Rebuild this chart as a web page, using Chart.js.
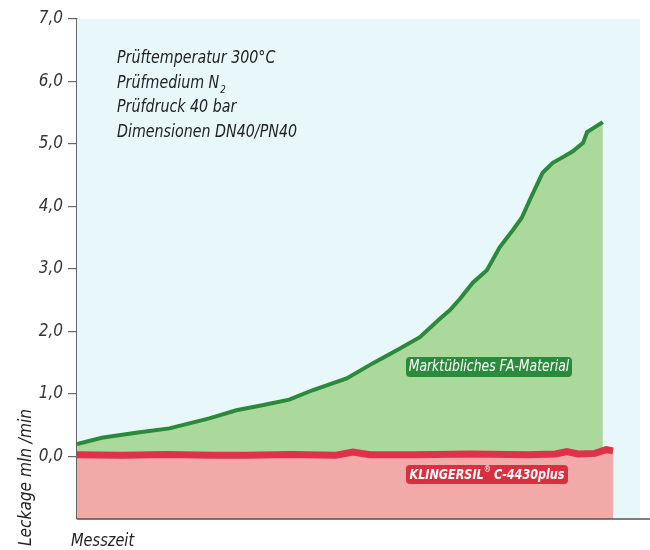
<!DOCTYPE html>
<html>
<head>
<meta charset="utf-8">
<script src="https://cdn.jsdelivr.net/npm/chart.js@4.4.1/dist/chart.umd.min.js"></script>
<style>
  html, body { margin: 0; padding: 0; background: #fff; }
  #wrap { width: 650px; height: 550px; }
</style>
</head>
<body>
<div id="wrap"><canvas id="myChart"></canvas></div>
<script>
// Messzeit (relative units, 0..100) and Leckage in mln/min
const faTime = [0, 4.4, 10.5, 16.4, 23.5, 28.3, 32.9, 37.7, 41.8, 47.9, 52.5, 56.8, 60.9, 64.4, 66.2, 68.0, 70.3, 72.8, 75.1, 77.4, 79.0, 80.4, 82.7, 84.5, 86.3, 88.0, 89.9, 90.6, 93.4];
const faLeak = [0.20, 0.30, 0.38, 0.45, 0.61, 0.74, 0.82, 0.91, 1.06, 1.25, 1.49, 1.70, 1.91, 2.20, 2.34, 2.52, 2.78, 2.98, 3.35, 3.62, 3.82, 4.10, 4.54, 4.70, 4.79, 4.88, 5.02, 5.19, 5.35];

const kTime = [0, 8, 16, 24, 30, 38, 46, 49, 52, 60, 70, 80, 85, 87, 89, 92, 94, 95.2];
const kLeak = [0.03, 0.02, 0.03, 0.02, 0.02, 0.03, 0.02, 0.07, 0.03, 0.03, 0.04, 0.03, 0.04, 0.08, 0.04, 0.05, 0.11, 0.09];

const yTicks = [0, 1, 2, 3, 4, 5, 6, 7];
const infoLines = ["Prüftemperatur 300°C", "Prüfmedium N", "Prüfdruck 40 bar", "Dimensionen DN40/PN40"];

const FONT = "'Liberation Sans Narrow', 'DejaVu Sans Condensed', 'Liberation Sans', sans-serif";

function toPoints(xs, ys) {
    return xs.map((x, i) => ({ x: x, y: ys[i] }));
}

// draws text squeezed horizontally, returns the drawn width
function narrowText(ctx, text, x, y, sx) {
    ctx.save();
    ctx.translate(x, y);
    ctx.scale(sx, 1);
    ctx.fillText(text, 0, 0);
    ctx.restore();
    return ctx.measureText(text).width * sx;
}

function roundBox(ctx, x, y, w, h, r, color) {
    ctx.beginPath();
    ctx.moveTo(x + r, y);
    ctx.arcTo(x + w, y, x + w, y + h, r);
    ctx.arcTo(x + w, y + h, x, y + h, r);
    ctx.arcTo(x, y + h, x, y, r);
    ctx.arcTo(x, y, x + w, y, r);
    ctx.closePath();
    ctx.fillStyle = color;
    ctx.fill();
}

const decor = {
    id: "decor",
    beforeDatasetsDraw(chart) {
        const { ctx, chartArea } = chart;
        ctx.save();
        ctx.fillStyle = "#e7f7fa";
        ctx.fillRect(chartArea.left, chartArea.top, chartArea.right - chartArea.left, chartArea.bottom - chartArea.top);
        ctx.restore();
    },
    afterDraw(chart) {
        const { ctx, chartArea } = chart;
        ctx.save();
        // bottom axis line runs to the edge
        ctx.strokeStyle = "#555";
        ctx.lineWidth = 1.5;
        ctx.beginPath();
        ctx.moveTo(chartArea.left, chartArea.bottom);
        ctx.lineTo(chart.width, chartArea.bottom);
        ctx.stroke();

        // info block
        ctx.fillStyle = "#222";
        ctx.font = "italic 18px " + FONT;
        ctx.textAlign = "left";
        ctx.textBaseline = "alphabetic";
        const x0 = 117, y0 = 63, lh = 24.5;
        infoLines.forEach((t, i) => {
            const w = narrowText(ctx, t, x0, y0 + i * lh, 0.88);
            if (i === 1) {
                ctx.font = "italic 11px " + FONT;
                narrowText(ctx, "2", x0 + w + 1, y0 + i * lh + 5, 0.88);
                ctx.font = "italic 18px " + FONT;
            }
        });

        // series labels
        roundBox(ctx, 406, 357, 166, 20, 4, "#2c8a3c");
        ctx.fillStyle = "#fff";
        ctx.font = "italic 15px " + FONT;
        ctx.textBaseline = "middle";
        const wm = ctx.measureText("Marktübliches FA-Material").width * 0.92;
        narrowText(ctx, "Marktübliches FA-Material", 489 - wm / 2, 367.5, 0.92);

        roundBox(ctx, 406, 465, 162, 19, 4, "#d9303f");
        ctx.fillStyle = "#fff";
        const a = "KLINGERSIL", b = "C-4430plus", sq = 0.89;
        ctx.font = "italic bold 14px " + FONT;
        const wa = ctx.measureText(a).width * sq;
        const wb = ctx.measureText(b).width * sq;
        ctx.font = "italic 8px " + FONT;
        const wr = ctx.measureText("®").width;
        const sx = 487 - (wa + wr + 3 + wb) / 2;
        ctx.font = "italic bold 14px " + FONT;
        narrowText(ctx, a, sx, 475, sq);
        ctx.font = "italic 8px " + FONT;
        ctx.fillText("®", sx + wa, 470);
        ctx.font = "italic bold 14px " + FONT;
        narrowText(ctx, b, sx + wa + wr + 3, 475, sq);

        // axis titles
        ctx.fillStyle = "#222";
        ctx.font = "italic 18px " + FONT;
        ctx.textBaseline = "alphabetic";
        narrowText(ctx, "Messzeit", 71, 546, 0.9);
        ctx.translate(31, 546);
        ctx.rotate(-Math.PI / 2);
        narrowText(ctx, "Leckage mln /min", 0, 0, 0.95);
        ctx.restore();
    }
};

const chart = new Chart(document.getElementById("myChart"), {
    type: "line",
    data: {
        datasets: [
            {
                label: "KLINGERSIL C-4430plus",
                data: toPoints(kTime, kLeak),
                borderColor: "#e0304a",
                borderWidth: 7,
                backgroundColor: "#f1aaa7",
                fill: "start",
                pointRadius: 0,
                tension: 0,
                order: 1,
            },
            {
                label: "Marktübliches FA-Material",
                data: toPoints(faTime, faLeak),
                borderColor: "#2a8a3a",
                borderWidth: 4,
                backgroundColor: "#abd99c",
                fill: "origin",
                pointRadius: 0,
                tension: 0,
                order: 2,
            },
        ],
    },
    options: {
        responsive: true,
        maintainAspectRatio: false,
        animation: false,
        layout: { padding: { top: 19, right: 10, left: 0, bottom: 0 } },
        plugins: {
            legend: { display: false },
            tooltip: { enabled: false },
        },
        scales: {
            x: {
                type: "linear",
                min: 0,
                max: 100,
                display: true,
                ticks: { display: false },
                grid: { display: false },
                border: { display: false },
                afterFit(scale) { scale.height = 31; },
            },
            y: {
                min: -1,
                max: 7,
                afterFit(scale) { scale.width = 77; },
                afterBuildTicks(scale) {
                    scale.ticks = [{ value: -1 }].concat(yTicks.map(v => ({ value: v })));
                },
                ticks: {
                    padding: 5,
                    color: "#333",
                    font: { family: FONT, size: 17, style: "italic" },
                    callback: v => (v < 0 ? "" : v.toFixed(1).replace(".", ",")),
                },
                grid: {
                    drawOnChartArea: false,
                    drawTicks: true,
                    tickLength: 9,
                    color: c => (c.tick && c.tick.value < 0 ? "rgba(0,0,0,0)" : "#666"),
                    lineWidth: 1.2,
                },
                border: { display: true, color: "#666", width: 1.5 },
            },
        },
    },
    plugins: [decor],
});
</script>
</body>
</html>
